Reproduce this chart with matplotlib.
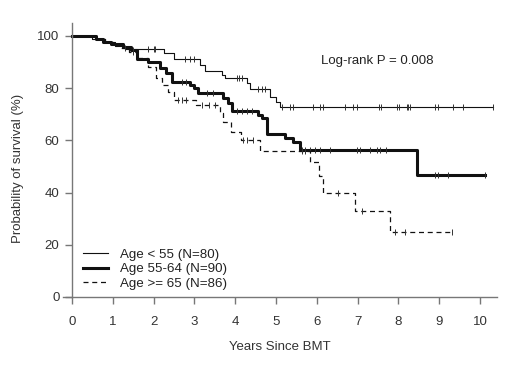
import numpy as np
import matplotlib
matplotlib.use("Agg")
import matplotlib.pyplot as plt

plt.rcParams['font.family'] = ['Liberation Sans', 'DejaVu Sans']

# Age < 55 (thin solid)
t_lt55 = [0, 0.5, 0.8, 1.05, 1.3, 2.25, 2.5, 3.14, 3.26, 3.67, 3.75, 4.28, 4.36, 4.85, 5.0, 5.1]
s_lt55 = [100, 98.8, 97.5, 96.3, 95.1, 93.3, 91.0, 88.9, 86.5, 85.0, 83.9, 82.0, 79.5, 76.6, 74.6, 72.9]
end_lt55 = 10.32
c_lt55 = [1.86, 2.0, 2.03, 2.77, 2.9, 3.0, 4.04, 4.1, 4.17, 4.56, 4.65, 4.73, 5.15, 5.34, 5.42,
          5.91, 6.08, 6.15, 6.69, 6.89, 6.99, 7.52, 7.57, 7.97, 8.01, 8.21, 8.24, 8.28, 8.9, 8.97,
          9.34, 9.58, 10.32]

# Age 55-64 (thick solid)
t_55_64 = [0, 0.6, 0.75, 0.95, 1.25, 1.45, 1.6, 1.86, 2.16, 2.3, 2.45, 2.9, 3.0, 3.08, 3.7, 3.82,
           3.92, 4.56, 4.65, 4.78, 5.22, 5.42, 5.6, 8.46]
s_55_64 = [100, 98.9, 97.8, 96.7, 95.6, 94.4, 91.1, 90.0, 87.8, 85.6, 82.5, 81.2, 79.9, 78.1, 76.2,
           74.3, 71.2, 69.8, 68.4, 62.5, 61.0, 59.5, 56.2, 46.8]
end_55_64 = 10.12
c_55_64 = [1.5, 2.7, 2.8, 3.3, 3.45, 4.04, 4.17, 4.3, 4.41, 5.64, 5.71, 5.83, 5.96, 6.08, 6.32,
           6.99, 7.06, 7.3, 7.48, 7.55, 7.7, 8.9, 8.97, 9.22, 10.12]

# Age >= 65 (dashed)
t_ge65 = [0, 0.55, 0.8, 1.0, 1.2, 1.4, 1.6, 1.87, 2.05, 2.2, 2.35, 2.5, 3.05, 3.63, 3.7, 3.9, 4.15,
          4.6, 5.83, 6.05, 6.15, 6.94, 7.8]
s_ge65 = [100, 98.8, 97.6, 96.4, 95.2, 94.0, 91.6, 88.0, 84.0, 81.0, 78.5, 75.5, 73.4, 70.5, 67.0,
          63.2, 60.2, 56.0, 51.8, 46.5, 39.7, 33.1, 25.0]
end_ge65 = 9.31
c_ge65 = [1.3, 1.5, 2.6, 2.7, 2.8, 3.2, 3.35, 3.5, 4.2, 4.3, 4.45, 5.64, 5.7, 6.52, 7.1, 7.92,
          8.16, 9.31]

labels = ["Age < 55 (N=80)", "Age 55-64 (N=90)", "Age >= 65 (N=86)"]
x_ticks = list(range(0, 11))
y_ticks = [0, 20, 40, 60, 80, 100]

fig = plt.figure(figsize=(5.2, 3.68), dpi=100)
ax = fig.add_axes([0.121, 0.193, 0.835, 0.745])

col = '#111111'
styles = [dict(lw=0.8, ls='-'), dict(lw=2.2, ls='-'), dict(lw=0.9, ls=(0, (4, 3)))]
data = [(t_lt55, s_lt55, end_lt55, c_lt55), (t_55_64, s_55_64, end_55_64, c_55_64),
        (t_ge65, s_ge65, end_ge65, c_ge65)]

handles = []
for (t, s, e, c), st, lab in zip(data, styles, labels):
    tt = list(t) + [e]
    ss = list(s) + [s[-1]]
    h, = ax.step(tt, ss, where='post', color=col, lw=st['lw'], ls=st['ls'], label=lab)
    handles.append(h)
    ta = np.array(t)
    sa = np.array(s)
    cy = sa[np.searchsorted(ta, np.array(c), side='right') - 1]
    ax.plot(c, cy, ls='none', marker='|', ms=5, mew=0.7, color='#333333')

ax.set_xlim(-0.22, 10.42)
ax.set_ylim(0, 105)
ax.set_xticks(x_ticks)
ax.set_yticks(y_ticks)
for sp in ['top', 'right']:
    ax.spines[sp].set_visible(False)
ax.spines['left'].set_position(('data', 0))
ax.spines['left'].set_bounds(0, 105)
for sp in ['left', 'bottom']:
    ax.spines[sp].set_color('#777777')
    ax.spines[sp].set_linewidth(1.0)
ax.tick_params(axis='both', colors='#777777', labelcolor='#333333', labelsize=9.5,
               length=5, width=1.0, direction='out')
ax.tick_params(axis='x', pad=9)
ax.tick_params(axis='y', pad=4)

ax.set_xlabel("Years Since BMT", fontsize=9.5, color='#333333', labelpad=9)
ax.set_ylabel("Probability of survival (%)", fontsize=9.5, color='#333333')
ax.yaxis.set_label_coords(-0.09, 0.47)

ax.text(7.48, 90.4, "Log-rank P = 0.008", fontsize=9.5, color='#222222', ha='center', va='center')

leg = ax.legend(handles=handles, loc='lower left', bbox_to_anchor=(0.034, 0.006), frameon=False,
                fontsize=9.6, handlelength=1.9, handletextpad=0.9, labelspacing=0.17,
                borderaxespad=0.0)
for txt in leg.get_texts():
    txt.set_color('#222222')

fig.savefig("out.png", dpi=100)
